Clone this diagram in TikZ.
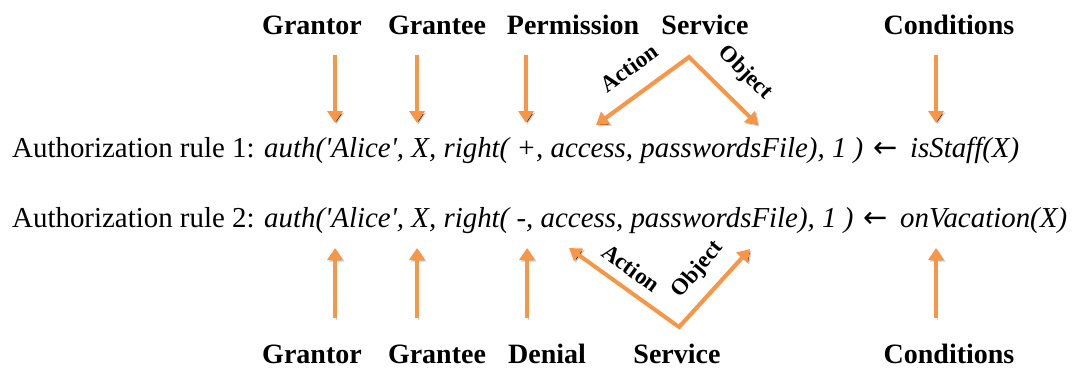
\documentclass[tikz,border=0pt]{standalone}
\usepackage{fontspec}
\setmainfont{Liberation Serif}
\newfontfamily\arrfont{DejaVu Sans}
\usetikzlibrary{arrows.meta}
\definecolor{arrorange}{HTML}{F79646}
\tikzset{
  arr/.style={draw=arrorange, line width=4pt, line join=miter,
    -{Triangle[width=15pt,length=12pt]},
    preaction={draw=black, draw opacity=0.18, transform canvas={shift={(1.5pt,-1.5pt)}}}},
  darr/.style={arr, {Triangle[width=15pt,length=12pt]}-{Triangle[width=15pt,length=12pt]}},
  lbl/.style={font=\bfseries\fontsize{28}{30}\selectfont, inner sep=0, anchor=base},
  sublbl/.style={font=\bfseries\fontsize{23}{25}\selectfont, inner sep=0},
  rule/.style={font=\fontsize{28.9}{32}\selectfont, inner sep=0, anchor=base west},
}
\newcommand{\sq}{\textquotesingle}
\newcommand{\larr}{\hspace{3pt}{\arrfont\fontsize{29}{30}\selectfont ←}\hspace{5pt}}
\begin{document}
\begin{tikzpicture}[x=1pt,y=-1pt]
\useasboundingbox (0,0) rectangle (1073,369);
% top labels
\node[lbl] (tGrantor) at (312,35) {Grantor};
\node[lbl] (tGrantee) at (437,35) {Grantee};
\node[lbl] (tPerm) at (573,35) {Permission};
\node[lbl] (tService) at (705,35) {Service};
\node[lbl] (tCond) at (949,35) {Conditions};
% bottom labels
\node[lbl] (bGrantor) at (312,363) {Grantor};
\node[lbl] (bGrantee) at (437,363) {Grantee};
\node[lbl] (bDenial) at (547,363) {Denial};
\node[lbl] (bService) at (677,363) {Service};
\node[lbl] (bCond) at (949,363) {Conditions};
% rules
\node[rule] (r1) at (12,157) {Authorization rule 1: \textit{auth(\sq Alice\sq, X, right( +, access, passwordsFile), 1 )} \larr\ \textit{isStaff(X)}};
\node[rule] (r2) at (12,227) {Authorization rule 2: \textit{auth(\sq Alice\sq, X, right( -, access, passwordsFile), 1 )} \larr\ \textit{onVacation(X)}};
% top arrow coordinates
\coordinate (t1s) at (335,55); \coordinate (t1e) at (335,123);
\coordinate (t2s) at (417,55); \coordinate (t2e) at (417,123);
\coordinate (t3s) at (526,55); \coordinate (t3e) at (526,123);
\coordinate (t4s) at (936,55); \coordinate (t4e) at (936,123);
\coordinate (tApex) at (689,57);
\coordinate (tAct) at (596,125);
\coordinate (tObj) at (758,125);
\draw[arr] (t1s) -- (t1e);
\draw[arr] (t2s) -- (t2e);
\draw[arr] (t3s) -- (t3e);
\draw[arr] (t4s) -- (t4e);
\draw[darr] (tAct) -- (tApex) -- (tObj);
\node[sublbl, rotate=36] (tActL) at (629,68) {Action};
\node[sublbl, rotate=-45] (tObjL) at (745,73) {Object};
% bottom arrow coordinates
\coordinate (b1s) at (335,318); \coordinate (b1e) at (335,248);
\coordinate (b2s) at (417,318); \coordinate (b2e) at (417,248);
\coordinate (b3s) at (527,318); \coordinate (b3e) at (527,248);
\coordinate (b4s) at (936,318); \coordinate (b4e) at (936,248);
\coordinate (bApex) at (679,327);
\coordinate (bAct) at (569,248);
\coordinate (bObj) at (750,249);
\draw[arr] (b1s) -- (b1e);
\draw[arr] (b2s) -- (b2e);
\draw[arr] (b3s) -- (b3e);
\draw[arr] (b4s) -- (b4e);
\draw[darr] (bAct) -- (bApex) -- (bObj);
\node[sublbl, rotate=-36] (bActL) at (631,268) {Action};
\node[sublbl, rotate=50] (bObjL) at (698,270) {Object};
\end{tikzpicture}
\end{document}
